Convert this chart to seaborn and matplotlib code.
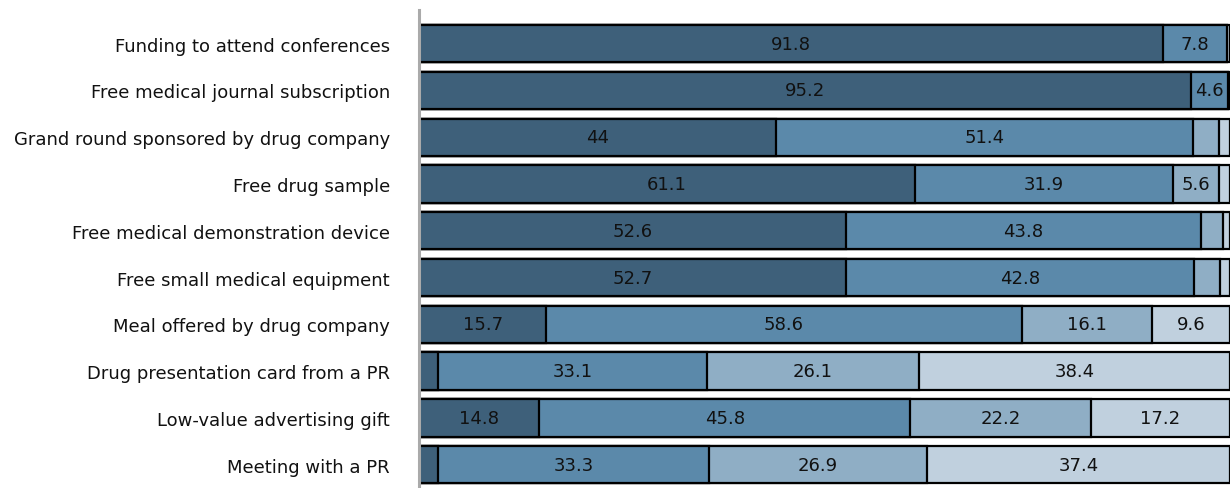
import numpy as np
import pandas as pd
import matplotlib.pyplot as plt
import seaborn as sns

# -----------------------------------
# DATA
# -----------------------------------

items = [
    "Funding to attend conferences",
    "Free medical journal subscription",
    "Grand round sponsored by drug company",
    "Free drug sample",
    "Free medical demonstration device",
    "Free small medical equipment",
    "Meal offered by drug company",
    "Drug presentation card from a PR",
    "Low-value advertising gift",
    "Meeting with a PR",
]

seg1 = [91.8, 95.2, 44.0, 61.1, 52.6, 52.7, 15.7, 2.4, 14.8, 2.4]
seg2 = [7.8, 4.6, 51.4, 31.9, 43.8, 42.8, 58.6, 33.1, 45.8, 33.3]
seg3 = [0.0, 0.0, 3.3, 5.6, 2.7, 3.3, 16.1, 26.1, 22.2, 26.9]
seg4 = [0.4, 0.2, 1.3, 1.4, 0.9, 1.2, 9.6, 38.4, 17.2, 37.4]

colors = ["#3e607a", "#5b89aa", "#8faec5", "#c0d0de"]

df = pd.DataFrame({"item": items, "s1": seg1, "s2": seg2, "s3": seg3, "s4": seg4})
segs = ["s1", "s2", "s3", "s4"]
cum = df[segs].cumsum(axis=1)

# SET STYLE
sns.set_style("white")
plt.rcParams["font.family"] = ["DejaVu Sans"]

fig = plt.figure(figsize=(12.31, 4.89), dpi=100)
ax = fig.add_axes([419 / 1231, 0.0, 811 / 1231, 478 / 489])

# stacked bars: draw cumulative totals from the largest down
for i in range(3, -1, -1):
    sns.barplot(
        x=cum[segs[i]],
        y=df["item"],
        orient="h",
        color=colors[i],
        saturation=1,
        width=0.8,
        edgecolor="black",
        linewidth=1.6,
        ax=ax,
    )

# value labels in the middle of each segment
for row in range(len(df)):
    for i, s in enumerate(segs):
        v = df.loc[row, s]
        if v >= 4:
            mid = cum.loc[row, s] - v / 2
            ax.text(mid, row, f"{v:g}", ha="center", va="center",
                    fontsize=13, color="#111111")

ax.set_xlim(0, 100)
ax.set_ylim(9.5, -0.72)
ax.set_xlabel("")
ax.set_ylabel("")
ax.set_xticks([])
ax.tick_params(axis="y", length=0, pad=21, labelsize=13, labelcolor="#111111")

for side in ["top", "right", "bottom"]:
    ax.spines[side].set_visible(False)
ax.spines["left"].set_color("#aaaaaa")
ax.spines["left"].set_linewidth(2.2)

plt.savefig("out.png", dpi=100)
